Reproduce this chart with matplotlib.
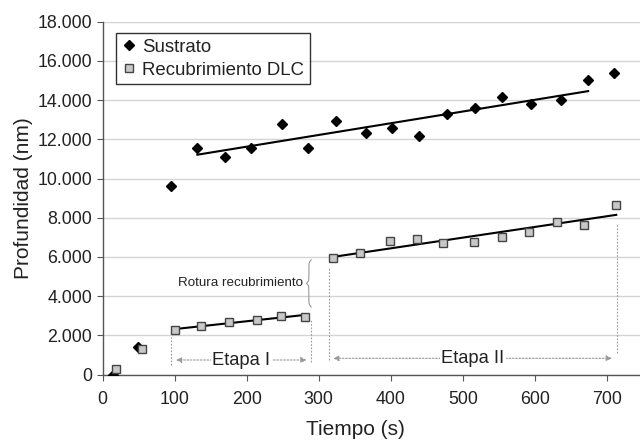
import numpy as np
import matplotlib.pyplot as plt
from matplotlib.ticker import FuncFormatter

plt.rcParams['font.family'] = ['Liberation Sans', 'DejaVu Sans']

### Data

sustrato_t = [14, 49.5, 94.4, 131.4, 169.4, 206.4, 248.6, 285.6, 324, 365.3,
              401.4, 439.3, 477.8, 517, 555, 594.4, 636, 674, 710]
sustrato_p = [0, 1420, 9630, 11570, 11100, 11570, 12770, 11580, 12950, 12320,
              12590, 12150, 13310, 13580, 14140, 13790, 14000, 15030, 15400]

dlc_t = [18.5, 55, 100.8, 136, 175.8, 213.8, 248, 281, 319.4, 357.8,
         399, 436, 473, 515.7, 554.6, 591.7, 630.5, 668, 713]
dlc_p = [280, 1285, 2270, 2460, 2680, 2780, 2985, 2950, 5945, 6185,
         6795, 6900, 6710, 6775, 7015, 7285, 7795, 7610, 8665]

# index ranges used for the linear trend lines
sustrato_fit = (3, 18)
etapa1_fit = (2, 8)
etapa2_fit = (8, 19)

# annotation positions (time, depth)
etapa1_edges = [(94.4, 480, 1930), (288.8, 650, 2780)]
etapa2_edges = [(314, 740, 5430), (714, 1100, 7730)]
etapa1_arrow = (101.8, 283, 740)
etapa2_arrow = (320, 707, 826)
brace_pos = (283, 3450, 5850)

xticks = list(range(0, 701, 100))
yticks = list(range(0, 18001, 2000))

### Figure

fig = plt.figure(figsize=(6.4, 4.42), dpi=100)
ax = fig.add_axes([0.1605, 0.1527, 0.8395, 0.7982])

ax.set_xlim(0, 746)
ax.set_ylim(0, 18000)
ax.set_xticks(xticks)
ax.set_yticks(yticks)
ax.yaxis.set_major_formatter(FuncFormatter(lambda v, p: '{:,.0f}'.format(v).replace(',', '.')))
ax.tick_params(labelsize=12.8, colors='#555', labelcolor='#222', length=4, width=0.8)
ax.tick_params(axis='x', pad=8)
ax.grid(axis='y', color='#d4d4d4', lw=1)
ax.set_axisbelow(True)
for side in ['top', 'right']:
    ax.spines[side].set_visible(False)
for side in ['left', 'bottom']:
    ax.spines[side].set_color('#555')
    ax.spines[side].set_linewidth(1)

ax.set_xlabel('Tiempo (s)', fontsize=15, color='#222')
ax.xaxis.set_label_coords(0.4696, -0.128)
ax.set_ylabel('Profundidad (nm)', fontsize=15, color='#222', labelpad=3)

ax.plot(sustrato_t, sustrato_p, 'D', ms=5.2, color='black', label='Sustrato', zorder=4)
ax.plot(dlc_t, dlc_p, 's', ms=6.3, mfc='#c8c8c8', mec='#444', mew=1, label='Recubrimiento DLC', zorder=4)

# trend lines
for data_t, data_p, (a, b) in [(sustrato_t, sustrato_p, sustrato_fit),
                               (dlc_t, dlc_p, etapa1_fit),
                               (dlc_t, dlc_p, etapa2_fit)]:
    tt = np.array(data_t[a:b])
    pp = np.array(data_p[a:b])
    k, c = np.polyfit(tt, pp, 1)
    ax.plot([tt[0], tt[-1]], [k * tt[0] + c, k * tt[-1] + c], color='black', lw=1.5, zorder=3)

# stage markers
for x, y0, y1 in etapa1_edges + etapa2_edges:
    ax.plot([x, x], [y0, y1], color='#999', lw=0.8, ls=(0, (1.5, 1.5)))

for (x0, x1, y), label in [(etapa1_arrow, 'Etapa I'), (etapa2_arrow, 'Etapa II')]:
    ax.annotate('', xy=(x0, y), xytext=(x1, y),
                arrowprops=dict(arrowstyle='<|-|>', color='#999', lw=0.8, ls=(0, (1.5, 1.5)),
                                mutation_scale=8, shrinkA=0, shrinkB=0))
    ax.text((x0 + x1) / 2, y, label, fontsize=13.2, color='#222', ha='center', va='center',
            bbox=dict(facecolor='white', edgecolor='none', pad=1))

# brace for "Rotura recubrimiento"
bx, by0, by1 = brace_pos
t = np.linspace(0, 0.5, 100)
beta = 40
s = 1 / (1 + np.exp(-beta * t)) + 1 / (1 + np.exp(-beta * (t - 0.5)))
half_x = bx + 6.5 * (1.5 - s)
half_y = by0 + t * (by1 - by0)
ax.plot(np.concatenate([half_x, half_x[::-1]]),
        np.concatenate([half_y, by1 - (half_y[::-1] - by0)]), color='#999', lw=0.8)
ax.text(bx - 5, (by0 + by1) / 2, 'Rotura recubrimiento', fontsize=9.6, color='#222',
        ha='right', va='center')

leg = ax.legend(loc='upper left', bbox_to_anchor=(0.0248, 0.967), borderaxespad=0,
                fontsize=13.4, frameon=True, fancybox=False, edgecolor='black',
                handlelength=0.8, handletextpad=0.3, labelspacing=0.3, borderpad=0.3)
leg.get_frame().set_linewidth(1)
for txt in leg.get_texts():
    txt.set_color('#222')

fig.savefig('out.png', dpi=100)
